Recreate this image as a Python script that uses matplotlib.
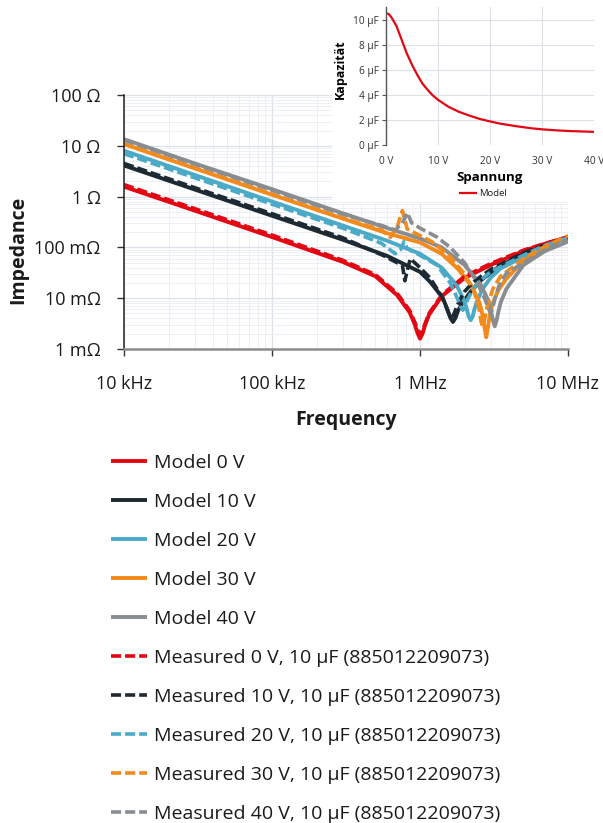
import matplotlib
matplotlib.use('Agg')
import matplotlib.pyplot as plt
from matplotlib.patches import Rectangle
from matplotlib.ticker import LogLocator, NullFormatter, FixedLocator

plt.rcParams['font.family'] = ['Open Sans', 'DejaVu Sans']
plt.rcParams['text.color'] = '#1a1a1a'

# ---- impedance data ----
# model curves
f_m0 = [1e4, 3e4, 1e5, 3e5, 5e5, 7e5, 8.5e5, 9.2e5, 9.6e5, 1.0e6, 1.04e6, 1.08e6, 1.15e6, 1.4e6, 2e6, 3e6, 5e6, 7e6, 1e7]
z_m0 = [1.57, 0.53, 0.16, 0.052, 0.027, 0.0115, 0.0053, 0.0031, 0.0021, 0.0016, 0.002, 0.0029, 0.0047, 0.0109, 0.025, 0.045, 0.085, 0.118, 0.16]

f_m10 = [1e4, 3e4, 1e5, 3e5, 6e5, 1e6, 1.17e6, 1.42e6, 1.536e6, 1.603e6, 1.67e6, 1.737e6, 1.804e6, 1.92e6, 2.18e6, 2.6e6, 3.34e6, 5e6, 7e6, 1e7]
z_m10 = [4.1, 1.38, 0.42, 0.142, 0.068, 0.033, 0.021, 0.0103, 0.0059, 0.0041, 0.0034, 0.0041, 0.0056, 0.0078, 0.013, 0.023, 0.04, 0.075, 0.11, 0.155]

f_m20 = [1e4, 3e4, 1e5, 3e5, 6e5, 1e6, 1.4e6, 1.76e6, 1.98e6, 2.07e6, 2.13e6, 2.2e6, 2.27e6, 2.33e6, 2.42e6, 2.64e6, 3.0e6, 3.5e6, 5e6, 7e6, 1e7]
z_m20 = [8.0, 2.67, 0.8, 0.27, 0.135, 0.075, 0.04, 0.0184, 0.0092, 0.0062, 0.0044, 0.0037, 0.0044, 0.006, 0.0085, 0.0151, 0.0252, 0.0385, 0.065, 0.105, 0.155]

f_m30 = [1e4, 3e4, 1e5, 3e5, 6e5, 1e6, 1.4e6, 1.8e6, 2.24e6, 2.52e6, 2.632e6, 2.716e6, 2.8e6, 2.884e6, 2.968e6, 3.08e6, 3.36e6, 3.8e6, 5e6, 7e6, 1e7]
z_m30 = [10.8, 3.6, 1.09, 0.37, 0.19, 0.125, 0.075, 0.038, 0.0171, 0.0082, 0.005, 0.0029, 0.0017, 0.0028, 0.0047, 0.0075, 0.0139, 0.0236, 0.055, 0.1, 0.165]

f_m40 = [1e4, 3e4, 1e5, 3e5, 6e5, 1e6, 1.4e6, 2e6, 2.56e6, 2.88e6, 3.008e6, 3.104e6, 3.2e6, 3.296e6, 3.392e6, 3.52e6, 3.84e6, 4.48e6, 5e6, 7e6, 1e7]
z_m40 = [13.5, 4.5, 1.4, 0.47, 0.24, 0.15, 0.1, 0.045, 0.019, 0.0093, 0.0059, 0.0038, 0.0028, 0.0037, 0.0056, 0.0085, 0.0154, 0.0288, 0.045, 0.085, 0.13]

# measured curves
f_s0 = [1e4, 3e4, 1e5, 3e5, 5e5, 7e5, 8.5e5, 9.3e5, 9.7e5, 1.0e6, 1.03e6, 1.08e6, 1.15e6, 1.4e6, 2e6, 3e6, 5e6, 7e6, 1e7]
z_s0 = [1.72, 0.58, 0.175, 0.056, 0.029, 0.0125, 0.0058, 0.0032, 0.0023, 0.0019, 0.0022, 0.0031, 0.005, 0.0115, 0.027, 0.048, 0.088, 0.12, 0.16]

f_s10 = [1e4, 3e4, 1e5, 3e5, 5.6e5, 7.0e5, 7.6e5, 7.9e5, 8.2e5, 8.6e5, 1e6, 1.17e6, 1.4e6, 1.5e6, 1.57e6, 1.62e6, 1.68e6, 1.75e6, 1.85e6, 2.0e6, 2.3e6, 3e6, 5e6, 7e6, 1e7]
z_s10 = [4.5, 1.5, 0.46, 0.155, 0.07, 0.05, 0.045, 0.022, 0.035, 0.06, 0.04, 0.025, 0.011, 0.0068, 0.0048, 0.0042, 0.0046, 0.0062, 0.009, 0.0135, 0.021, 0.037, 0.078, 0.112, 0.15]

f_s20 = [1e4, 3e4, 1e5, 3e5, 5.5e5, 6.8e5, 7.4e5, 7.8e5, 8.2e5, 1e6, 1.3e6, 1.6e6, 1.8e6, 1.88e6, 1.95e6, 2.02e6, 2.1e6, 2.25e6, 2.5e6, 3e6, 5e6, 7e6, 1e7]
z_s20 = [7.0, 2.35, 0.71, 0.24, 0.12, 0.075, 0.09, 0.13, 0.095, 0.07, 0.045, 0.02, 0.0095, 0.0068, 0.0058, 0.0068, 0.0095, 0.014, 0.021, 0.033, 0.07, 0.11, 0.155]

f_s30 = [1e4, 3e4, 1e5, 3e5, 5.5e5, 6.3e5, 7.0e5, 7.6e5, 8.2e5, 9e5, 1.2e6, 1.6e6, 2.0e6, 2.3e6, 2.5e6, 2.58e6, 2.64e6, 2.72e6, 2.85e6, 3.1e6, 3.5e6, 5e6, 7e6, 1e7]
z_s30 = [11.0, 3.7, 1.12, 0.38, 0.22, 0.157, 0.25, 0.53, 0.23, 0.2, 0.13, 0.065, 0.03, 0.0145, 0.0065, 0.0036, 0.0028, 0.0036, 0.007, 0.015, 0.027, 0.06, 0.105, 0.17]

f_s40 = [1e4, 3e4, 1e5, 3e5, 5.5e5, 6.8e5, 7.6e5, 8.2e5, 8.8e5, 1e6, 1.3e6, 1.6e6, 2.0e6, 2.4e6, 2.75e6, 2.92e6, 3.0e6, 3.08e6, 3.2e6, 3.4e6, 3.8e6, 5e6, 7e6, 1e7]
z_s40 = [13.0, 4.35, 1.33, 0.45, 0.27, 0.22, 0.3, 0.48, 0.3, 0.24, 0.16, 0.1, 0.05, 0.022, 0.0095, 0.006, 0.005, 0.006, 0.0095, 0.017, 0.03, 0.05, 0.09, 0.14]

model_labels = ['Model 0 V', 'Model 10 V', 'Model 20 V', 'Model 30 V', 'Model 40 V']
meas_labels = ['Measured %d V, 10 µF (885012209073)' % v for v in (0, 10, 20, 30, 40)]
colors = ['#e30613', '#1e2a33', '#4aaac8', '#f28a1c', '#8a8d90']

x_ticks = [1e4, 1e5, 1e6, 1e7]
x_ticklabels = ['10 kHz', '100 kHz', '1 MHz', '10 MHz']
y_ticks = [1e-3, 1e-2, 1e-1, 1, 10, 100]
y_ticklabels = ['1 mΩ', '10 mΩ', '100 mΩ', '1 Ω', '10 Ω', '100 Ω']

# ---- capacitance vs voltage (inset) ----
volt = [0, 0.5, 1, 2, 3, 4, 5, 6, 7, 8, 9, 10, 12, 14, 16, 18, 20, 22, 25, 28, 30, 33, 36, 40]
cap = [10.5, 10.45, 10.2, 9.5, 8.4, 7.3, 6.4, 5.6, 4.9, 4.4, 3.95, 3.6, 3.05, 2.65, 2.35, 2.08, 1.88, 1.7, 1.5, 1.33, 1.25, 1.16, 1.1, 1.05]


W, H = 603, 823
fig = plt.figure(figsize=(W / 100, H / 100), dpi=100)

ax = fig.add_axes([124 / W, 1 - 349 / H, 444 / W, 254 / H])
ax.set_xscale('log')
ax.set_yscale('log')

models = [(f_m0, z_m0), (f_m10, z_m10), (f_m20, z_m20), (f_m30, z_m30), (f_m40, z_m40)]
measured = [(f_s0, z_s0), (f_s10, z_s10), (f_s20, z_s20), (f_s30, z_s30), (f_s40, z_s40)]

handles = []
for (f, z), c, lab in zip(models, colors, model_labels):
    h, = ax.plot(f, z, color=c, lw=2.8, solid_capstyle='butt', solid_joinstyle='round', label=lab)
    handles.append(h)
for (f, z), c, lab in zip(measured, colors, meas_labels):
    h, = ax.plot(f, z, color=c, lw=2.6, ls=(0, (2.8, 1.1)), dash_capstyle='butt', label=lab)
    handles.append(h)

ax.set_xlim(1e4, 1e7)
ax.set_ylim(1e-3, 1e2)
ax.xaxis.set_major_locator(FixedLocator(x_ticks))
ax.set_xticklabels(x_ticklabels)
ax.yaxis.set_major_locator(FixedLocator(y_ticks))
ax.set_yticklabels(y_ticklabels)
for axis in (ax.xaxis, ax.yaxis):
    axis.set_minor_locator(LogLocator(base=10, subs=range(2, 10), numticks=20))
    axis.set_minor_formatter(NullFormatter())

ax.set_axisbelow(True)
ax.grid(which='major', color='#dce1e8', lw=0.9)
ax.grid(which='minor', color='#eceff3', lw=0.7)
ax.spines['top'].set_visible(False)
ax.spines['right'].set_visible(False)
ax.spines['left'].set_color('#222222')
ax.spines['left'].set_linewidth(1.1)
ax.spines['bottom'].set_color('#8c8c8c')
ax.spines['bottom'].set_linewidth(1.8)
ax.tick_params(which='major', length=5, width=1, color='#333333', labelsize=13, labelcolor='#1a1a1a')
ax.tick_params(axis='y', which='major', pad=12)
ax.tick_params(axis='x', which='major', pad=14)
ax.tick_params(which='minor', length=0)

fig.text(18 / W, 1 - 250 / H, 'Impedance', rotation=90, ha='center', va='center',
         fontsize=14, weight='bold')
fig.text(346 / W, 1 - 420 / H, 'Frequency', ha='center', va='center',
         fontsize=14, weight='bold')

fig.legend(handles=handles, loc='upper left', bbox_to_anchor=(111 / W, 1 - 454 / H),
           frameon=False, fontsize=14, handlelength=1.85, handletextpad=0.38,
           labelspacing=1.08, borderpad=0, borderaxespad=0)

# white block behind the inset, hides the main grid there
fig.patches.append(Rectangle((332 / W, 1 - 202 / H), 1 - 332 / W, 202 / H,
                             transform=fig.transFigure, facecolor='white',
                             edgecolor='none', zorder=2))

axin = fig.add_axes([386 / W, 1 - 145 / H, 208 / W, 138 / H], zorder=3)
axin.plot(volt, cap, color='#e30613', lw=1.6, label='Model')
axin.set_xlim(0, 40)
axin.set_ylim(0, 11)
axin.set_xticks([0, 10, 20, 30, 40])
axin.set_xticklabels(['%d V' % v for v in (0, 10, 20, 30, 40)])
axin.set_yticks([0, 2, 4, 6, 8, 10])
axin.set_yticklabels(['%d µF' % v for v in (0, 2, 4, 6, 8, 10)])
axin.grid(color='#dce1e8', lw=0.8)
axin.set_axisbelow(True)
for s in ('top', 'right', 'bottom'):
    axin.spines[s].set_visible(False)
axin.spines['left'].set_color('#555555')
axin.spines['left'].set_linewidth(1.0)
axin.tick_params(axis='y', length=3, width=0.8, color='#555555', labelsize=7.3, labelcolor='#333333', pad=2)
axin.tick_params(axis='x', length=0, labelsize=7.3, labelcolor='#333333', pad=8)
axin.set_xlabel('Spannung', fontsize=9.5, weight='bold')
axin.xaxis.set_label_coords(0.5, -0.185)
axin.set_ylabel('Kapazität', fontsize=9, weight='bold')
axin.yaxis.set_label_coords(-0.19, 0.55)
axin.legend(loc='center', bbox_to_anchor=(0.47, -0.355), frameon=False, fontsize=6.8,
            handlelength=1.6, handletextpad=0.4, borderpad=0)

fig.savefig('out.png', dpi=100, facecolor='white')
